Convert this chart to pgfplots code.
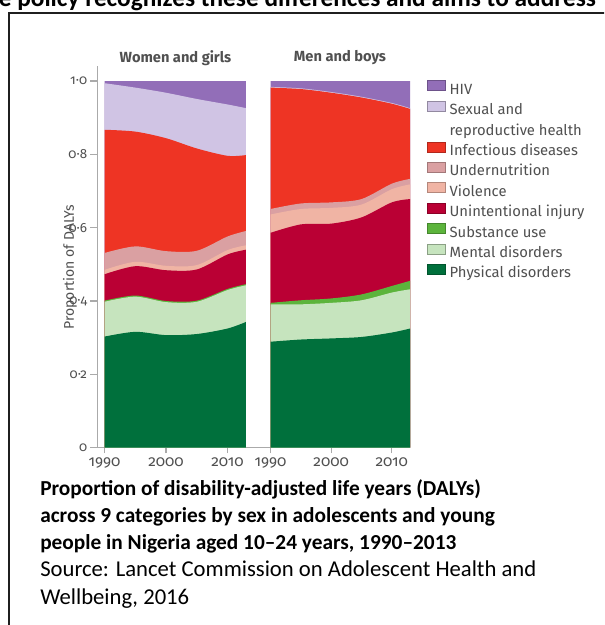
\documentclass[border=0pt]{standalone}
\usepackage{pgfplots}
\pgfplotsset{compat=1.18}
\usepackage{pgfplotstable}
\usepackage{fontspec}
\setmainfont{Carlito}
\newfontfamily\chartfont{Fira Sans}
\newfontfamily\chartnum[Numbers=OldStyle]{Fira Sans}

\definecolor{hiv}{RGB}{146,110,184}
\definecolor{sexual}{RGB}{208,196,228}
\definecolor{infect}{RGB}{238,52,36}
\definecolor{undernut}{RGB}{218,160,162}
\definecolor{violence}{RGB}{240,180,164}
\definecolor{injury}{RGB}{186,0,52}
\definecolor{substance}{RGB}{92,180,60}
\definecolor{mental}{RGB}{198,228,190}
\definecolor{physical}{RGB}{0,112,60}
\definecolor{axisgrey}{RGB}{170,170,170}
\definecolor{textgrey}{RGB}{80,80,80}

% cumulative top of each band (bottom to top)
\pgfplotstableread{
year phys ment subs inj viol und inf sex hiv
1990 0.303 0.398 0.401 0.473 0.485 0.531 0.867 0.994 1
1995 0.316 0.412 0.415 0.495 0.507 0.549 0.862 0.982 1
2000 0.307 0.397 0.400 0.484 0.496 0.536 0.844 0.968 1
2005 0.310 0.398 0.401 0.486 0.498 0.537 0.816 0.951 1
2010 0.325 0.430 0.433 0.527 0.539 0.576 0.796 0.936 1
2013 0.343 0.443 0.446 0.540 0.552 0.591 0.798 0.926 1
}\women

\pgfplotstableread{
year phys ment subs inj viol und inf sex hiv
1990 0.289 0.391 0.395 0.586 0.636 0.651 0.982 0.984 1
1995 0.295 0.391 0.402 0.609 0.651 0.666 0.978 0.980 1
2000 0.298 0.395 0.407 0.611 0.654 0.669 0.968 0.970 1
2005 0.302 0.402 0.418 0.628 0.663 0.678 0.955 0.957 1
2010 0.314 0.423 0.441 0.669 0.705 0.720 0.938 0.940 1
2013 0.325 0.432 0.455 0.678 0.718 0.733 0.924 0.926 1
}\men

\pgfplotsset{
  dalys/.style={
    scale only axis,
    anchor=south west,
    height=286.3pt,
    ymin=0, ymax=1.041,
    xmax=2013,
    axis x line*=bottom,
    axis line style={-, draw=axisgrey, line width=0.9pt},
    xtick={1990,2000,2010},
    xticklabels={1990,2000,2010},
    tick style={draw=axisgrey, line width=0.9pt},
    tick align=outside,
    xtick style={/pgfplots/major tick length=4pt},
    ticklabel style={font=\chartnum\fontsize{10}{12}\selectfont, text=textgrey},
    xticklabel style={font=\chartnum\fontsize{11.5}{13}\selectfont},
  },
  band/.style={draw=none, fill=#1, smooth, forget plot},
}

\newcommand{\bands}[1]{%
  \addplot[band=hiv] table[x=year,y=hiv]{#1} \closedcycle;
  \addplot[band=sexual] table[x=year,y=sex]{#1} \closedcycle;
  \addplot[band=infect] table[x=year,y=inf]{#1} \closedcycle;
  \addplot[band=undernut] table[x=year,y=und]{#1} \closedcycle;
  \addplot[band=violence] table[x=year,y=viol]{#1} \closedcycle;
  \addplot[band=injury] table[x=year,y=inj]{#1} \closedcycle;
  \addplot[band=substance] table[x=year,y=subs]{#1} \closedcycle;
  \addplot[band=mental] table[x=year,y=ment]{#1} \closedcycle;
  \addplot[band=physical] table[x=year,y=phys]{#1} \closedcycle;
}

\begin{document}
\begin{tikzpicture}
\begin{scope}[x=0.75pt,y=-0.75pt]
  \useasboundingbox (0,0) rectangle (604,625);
  \clip (0,0) rectangle (604,625);
  \fill[white] (0,0) rectangle (604,625);

  \begin{axis}[dalys,
    at={(73.125pt,-335.775pt)},
    width=111.375pt,
    xmin=1988.86,
    axis y line*=left,
    ytick={0,0.2,0.4,0.6,0.8,1},
    yticklabels={0,0·2,0·4,0·6,0·8,1·0},
    ytick style={/pgfplots/major tick length=5.6pt},
  ]
  \bands{\women}
  \end{axis}

  \begin{axis}[dalys,
    at={(184.5pt,-335.775pt)},
    width=123pt,
    xmin=1985.96,
    hide y axis,
    legend image code/.code={\filldraw[#1, line width=0.5pt] (0pt,-0.2pt) rectangle (13.5pt,7.3pt);},
    legend style={at={(1.1037,0.9625)}, anchor=north west,
      draw=none, fill=none, inner sep=0pt, outer sep=0pt,
      row sep=0pt, column sep=3pt,
      font=\chartfont\fontsize{11.1}{13}\selectfont, text=textgrey,
      nodes={inner sep=0pt, text height=10.5pt, text depth=4.8pt}},
    legend cell align=left,
  ]
  \bands{\men}
  \addlegendimage{fill=hiv, draw=hiv!75!black}
  \addlegendimage{fill=sexual, draw=sexual!70!black}
  \addlegendimage{empty legend}
  \addlegendimage{fill=infect, draw=infect!75!black}
  \addlegendimage{fill=undernut, draw=undernut!75!black}
  \addlegendimage{fill=violence, draw=violence!75!black}
  \addlegendimage{fill=injury, draw=injury!75!black}
  \addlegendimage{fill=substance, draw=substance!75!black}
  \addlegendimage{fill=mental, draw=mental!70!black}
  \addlegendimage{fill=physical, draw=physical!75!black}
  \legend{HIV, Sexual and, reproductive health, Infectious diseases,
    Undernutrition, Violence, Unintentional injury, Substance use,
    Mental disorders, Physical disorders}
  \end{axis}

  \begin{scope}[font=\chartfont\bfseries\fontsize{11}{13}\selectfont, text=textgrey]
    \node at (175.5,58) {Women and girls};
    \node at (340,58) {Men and boys};
  \end{scope}
  \node[rotate=90, font=\chartfont\fontsize{10.5}{12}\selectfont, text=textgrey]
    at (70,267) {Proportion of DALYs};

  % text of the page around the figure
  \begin{scope}[inner sep=0pt, anchor=base west, font=\fontsize{17}{20}\selectfont]
    \node[anchor=base east, font=\bfseries\fontsize{19}{22}\selectfont] at (12,6) {e};
    \node[font=\bfseries\fontsize{19}{22}\selectfont] at (17,6) {policy recognizes these differences and aims to address};
    \node[font=\bfseries\fontsize{16}{19}\selectfont] at (40,495) {Proportion of disability-adjusted life years (DALYs)};
    \node[font=\bfseries\fontsize{16}{19}\selectfont] at (40,522.3) {across 9 categories by sex in adolescents and young};
    \node[font=\bfseries\fontsize{16}{19}\selectfont] at (40,549.6) {people in Nigeria aged 10–24 years, 1990–2013};
    \node at (40,576.9) {Source: Lancet Commission on Adolescent Health and};
    \node at (40,604.2) {Wellbeing, 2016};
  \end{scope}
  \draw[line width=1.5pt, black!88] (9,640) -- (9,13) -- (620,13);
\end{scope}
\end{tikzpicture}
\end{document}
